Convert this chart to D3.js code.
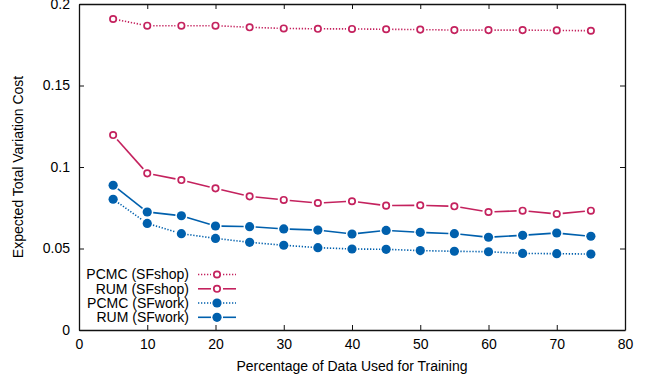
<!DOCTYPE html>
<html>
<head>
<meta charset="utf-8">
<script src="https://cdn.jsdelivr.net/npm/d3@7"></script>
<style>
  body { margin: 0; background: #fff; }
  svg text { font-family: "Liberation Sans", Arial, Helvetica, sans-serif; fill: #000; }
</style>
</head>
<body>
<svg id="chart" width="647" height="381"></svg>
<script>
/* Chart data
--------------------------------------------------- */
const trainPct = [5, 10, 15, 20, 25, 30, 35, 40, 45, 50, 55, 60, 65, 70, 75];
const pcmcShop = [0.1908, 0.1867, 0.1867, 0.1867, 0.1857, 0.1850, 0.1848, 0.1847, 0.1845, 0.1843, 0.1840, 0.1840, 0.1840, 0.1838, 0.1836];
const rumShop = [0.1196, 0.0961, 0.0920, 0.0869, 0.0820, 0.0798, 0.0779, 0.0790, 0.0763, 0.0765, 0.0759, 0.0724, 0.0732, 0.0712, 0.0732];
const pcmcWork = [0.0802, 0.0654, 0.0591, 0.0562, 0.0538, 0.0520, 0.0505, 0.0497, 0.0495, 0.0487, 0.0483, 0.0480, 0.0470, 0.0468, 0.0466];
const rumWork = [0.0888, 0.0724, 0.0701, 0.0638, 0.0634, 0.0620, 0.0613, 0.0589, 0.0611, 0.0599, 0.0591, 0.0569, 0.0581, 0.0595, 0.0575];
const xTicks = [0, 10, 20, 30, 40, 50, 60, 70, 80];
const yTicks = [0, 0.05, 0.1, 0.15, 0.2];
const seriesNames = ['PCMC (SFshop)', 'RUM (SFshop)', 'PCMC (SFwork)', 'RUM (SFwork)'];

const pink = '#c4225e';
const blue = '#0060ad';

const series = [
  { name: seriesNames[0], values: pcmcShop, color: pink, dotted: true, open: true },
  { name: seriesNames[1], values: rumShop, color: pink, dotted: false, open: true },
  { name: seriesNames[2], values: pcmcWork, color: blue, dotted: true, open: false },
  { name: seriesNames[3], values: rumWork, color: blue, dotted: false, open: false },
];

/* Scales
--------------------------------------------------- */
const svg = d3.select('#chart');
const x = d3.scaleLinear().domain([0, 80]).range([79, 625]);
const y = d3.scaleLinear().domain([0, 0.2]).range([330, 4]);
const tickLen = 5;
const fontSize = 14;

/* Frame, ticks and labels
--------------------------------------------------- */
const axes = svg.append('g');

axes.append('g')
  .attr('transform', `translate(0,${y(0)})`)
  .call(d3.axisBottom(x).tickValues(xTicks).tickSizeInner(-tickLen).tickSizeOuter(0).tickPadding(9).tickFormat(d3.format('d')));
axes.append('g')
  .attr('transform', `translate(0,${y(0.2)})`)
  .call(d3.axisTop(x).tickValues(xTicks).tickSizeInner(-tickLen).tickSizeOuter(0).tickFormat(''));
axes.append('g')
  .attr('transform', `translate(${x(0)},0)`)
  .call(d3.axisLeft(y).tickValues(yTicks).tickSizeInner(-tickLen).tickSizeOuter(0).tickPadding(9).tickFormat(d => String(+d.toFixed(2))));
axes.append('g')
  .attr('transform', `translate(${x(80)},0)`)
  .call(d3.axisRight(y).tickValues(yTicks).tickSizeInner(-tickLen).tickSizeOuter(0).tickFormat(''));

axes.selectAll('.domain').attr('stroke', '#111').attr('stroke-width', 1.3);
axes.selectAll('.tick line').attr('stroke', '#111').attr('stroke-width', 1);
axes.selectAll('.tick text').attr('font-size', fontSize).attr('font-family', '"Liberation Sans", Arial, sans-serif').attr('fill', '#000');

svg.append('text')
  .attr('x', (x(0) + x(80)) / 2)
  .attr('y', 371)
  .attr('text-anchor', 'middle')
  .attr('font-size', fontSize)
  .text('Percentage of Data Used for Training');

svg.append('text')
  .attr('transform', `translate(23,${(y(0) + y(0.2)) / 2}) rotate(-90)`)
  .attr('text-anchor', 'middle')
  .attr('font-size', fontSize)
  .text('Expected Total Variation Cost');

/* Series: segments shortened so they stop short of markers
--------------------------------------------------- */
const gap = 6;

function drawSegment(g, x1, y1, x2, y2, s) {
  const dx = x2 - x1, dy = y2 - y1;
  const len = Math.hypot(dx, dy);
  if (len <= gap * 2) return;
  const ux = dx / len, uy = dy / len;
  g.append('line')
    .attr('x1', x1 + ux * gap).attr('y1', y1 + uy * gap)
    .attr('x2', x2 - ux * gap).attr('y2', y2 - uy * gap)
    .attr('stroke', s.color)
    .attr('stroke-width', 1.6)
    .attr('stroke-dasharray', s.dotted ? '1.3,1.7' : null);
}

function drawMarker(g, cx, cy, s) {
  if (s.open) {
    g.append('circle').attr('cx', cx).attr('cy', cy).attr('r', 3.2)
      .attr('fill', '#fff').attr('stroke', s.color).attr('stroke-width', 1.7);
  } else {
    g.append('circle').attr('cx', cx).attr('cy', cy).attr('r', 4.6)
      .attr('fill', s.color);
  }
}

series.forEach(s => {
  const g = svg.append('g');
  const pts = trainPct.map((t, i) => [x(t), y(s.values[i])]);
  for (let i = 0; i < pts.length - 1; i++) {
    drawSegment(g, pts[i][0], pts[i][1], pts[i + 1][0], pts[i + 1][1], s);
  }
  pts.forEach(p => drawMarker(g, p[0], p[1], s));
});

/* Legend
--------------------------------------------------- */
const legend = svg.append('g');
const legendRows = [274.5, 288.8, 303, 317.3];

series.forEach((s, i) => {
  const ly = legendRows[i];
  legend.append('text')
    .attr('x', 189)
    .attr('y', ly)
    .attr('dy', '0.35em')
    .attr('text-anchor', 'end')
    .attr('font-size', fontSize)
    .text(s.name);
  drawSegment(legend, 192, ly, 217, ly, s);
  drawSegment(legend, 217, ly, 242, ly, s);
  drawMarker(legend, 217, ly, s);
});
</script>
</body>
</html>
